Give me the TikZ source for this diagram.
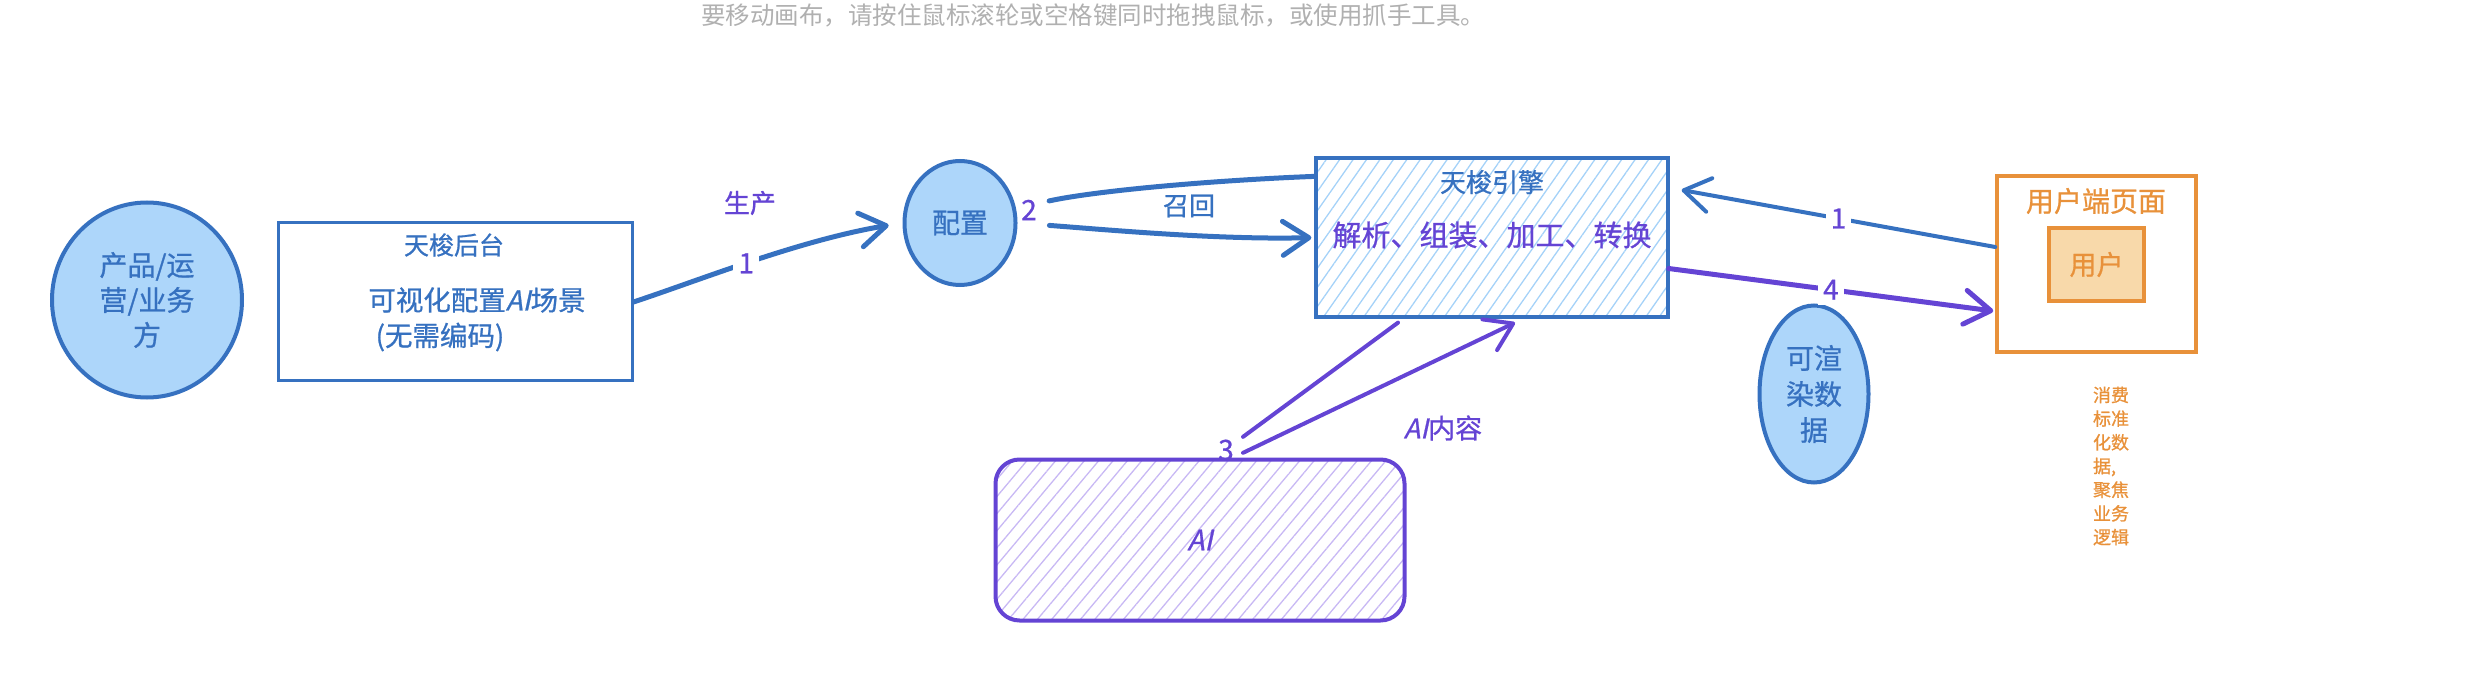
\documentclass[tikz,border=0pt]{standalone}
\usepackage{fontspec}
\setmainfont[FakeBold=0.8]{Noto Sans CJK SC}
\newfontfamily\slantfont[FakeSlant=0.22,FakeBold=0.8]{Noto Sans CJK SC}
\newfontfamily\hintfont{Noto Sans CJK SC}
\usetikzlibrary{arrows.meta,patterns.meta,shapes.geometric}
\definecolor{bS}{HTML}{3671C0}
\definecolor{bF}{HTML}{ADD6FA}
\definecolor{bH}{HTML}{A5D2F8}
\definecolor{pS}{HTML}{6444D4}
\definecolor{pH}{HTML}{C8B8F4}
\definecolor{oS}{HTML}{E8913A}
\definecolor{oF}{HTML}{F8D9AA}
\definecolor{gT}{HTML}{B0B0B0}
\newcommand{\ai}{{\slantfont AI}}
\begin{document}
\begin{tikzpicture}[x=1pt,y=-1pt,
  fz/.style={font=\fontsize{#1}{#1}\selectfont},
  blob/.style={ellipse, draw=bS, fill=bF, line width=4pt, text=bS, align=center, inner sep=0pt},
  sbox/.style={rectangle, draw=bS, line width=3pt},
  btxt/.style={text=bS},
  ptxt/.style={text=pS},
  num/.style={text=pS, fill=white, inner sep=5pt, fz=28},
  barrow/.style={draw=bS, line width=5pt, line cap=round, -{Straight Barb[length=26pt,width=34pt,round]}},
  parrow/.style={draw=pS, line width=5pt, line cap=round, -{Straight Barb[length=26pt,width=34pt,round]}},
  bline/.style={draw=bS, line width=5pt, line cap=round},
  pline/.style={draw=pS, line width=4pt, line cap=round}
]
\useasboundingbox (0,0) rectangle (2466,692);

% hint text
\node[text=gT, font=\hintfont\fontsize{24.5}{24.5}\selectfont] (hint) at (1093,15) {要移动画布，请按住鼠标滚轮或空格键同时拖拽鼠标，或使用抓手工具。};

% left actor
\node[blob, minimum width=190pt, minimum height=195pt, font=\fontsize{28}{35}\selectfont] (ops) at (147,300) {产品/运\\营/业务\\方};

% backend box
\node[sbox, minimum width=354pt, minimum height=158pt] (bk) at (455,302) {};
\node[btxt, fz=25] (bkT) at (454,245) {天梭后台};
\node[btxt, fz=27.5] (bkA) at (477,300) {可视化配置\ai 场景};
\node[btxt, fz=27.5] (bkB) at (440,337) {(无需编码)};

% config
\node[blob, minimum width=111pt, minimum height=124pt, fz=28] (cfg) at (960,223) {配置};

% engine
\node[draw=bS, line width=3.5pt, pattern={Lines[angle=55,distance=11pt,line width=1.3pt]}, pattern color=bH,
      minimum width=352pt, minimum height=159pt] (eng) at (1492,237.5) {};
\node[btxt, fz=26] (engT) at (1492,182) {天梭引擎};
\node[ptxt, fz=29] (engB) at (1492,235) {解析、组装、加工、转换};

% user page
\node[draw=oS, line width=3.5pt, minimum width=199pt, minimum height=176pt] (up) at (2096.5,264) {};
\node[text=oS, fz=28] (upT) at (2096,201) {用户端页面};
\node[draw=oS, fill=oF, line width=3.5pt, minimum width=95pt, minimum height=73pt, text=oS, fz=27] (usr) at (2096.5,264.5) {用户};
\node[text=oS, align=left, font=\fontsize{18}{23.7}\selectfont] (note) at (2111,466) {消费\\标准\\化数\\据,\\聚焦\\业务\\逻辑};

% renderable data
\node[blob, minimum width=109pt, minimum height=177pt, font=\fontsize{28}{36}\selectfont] (dat) at (1814,394) {可渲\\染数\\据};

% AI box
\node[draw=pS, line width=4pt, rounded corners=24pt, pattern={Lines[angle=50,distance=11pt,line width=1.3pt]}, pattern color=pH,
      minimum width=409pt, minimum height=161pt, text=pS, fz=28] (ai) at (1200,540) {\ai};

% labels
\node[ptxt, fz=26] (lblP) at (750,203) {生产};
\node[btxt, fz=26] (lblR) at (1189,206) {召回};
\node[ptxt, fz=28] (n2) at (1029,210) {2};
\node[ptxt, fz=28] (n3) at (1226,450) {3};
\node[ptxt, fz=27] (lblAI) at (1443,428) {\ai 内容};

% connectors
\draw[barrow, shorten >=14pt] (bk.east) .. controls (700,280) and (800,240) .. node[num, pos=0.47] {1} (cfg.west);
\draw[bline, shorten <=34pt] (cfg.15) .. controls (1100,190) and (1220,180) .. ([yshift=-19pt]eng.north west);
\draw[barrow, shorten <=32pt, shorten >=4pt] (cfg.east) .. controls (1110,230) and (1220,240) .. (eng.west);
\draw[barrow, line width=4pt] ([yshift=17pt]up.west) -- node[num] {1} ([xshift=13pt,yshift=47.5pt]eng.east);
\draw[parrow] ([yshift=-31pt]eng.east) -- node[num, pos=0.5] {4} ([xshift=-2pt,yshift=-47pt]up.west);
\draw[pline] ([xshift=43pt,yshift=22pt]ai.north) -- ([xshift=-94pt,yshift=-5pt]eng.south);
\draw[parrow, line width=4pt] ([xshift=43pt,yshift=6pt]ai.north) -- ([xshift=23pt,yshift=-5pt]eng.south);
\end{tikzpicture}
\end{document}
